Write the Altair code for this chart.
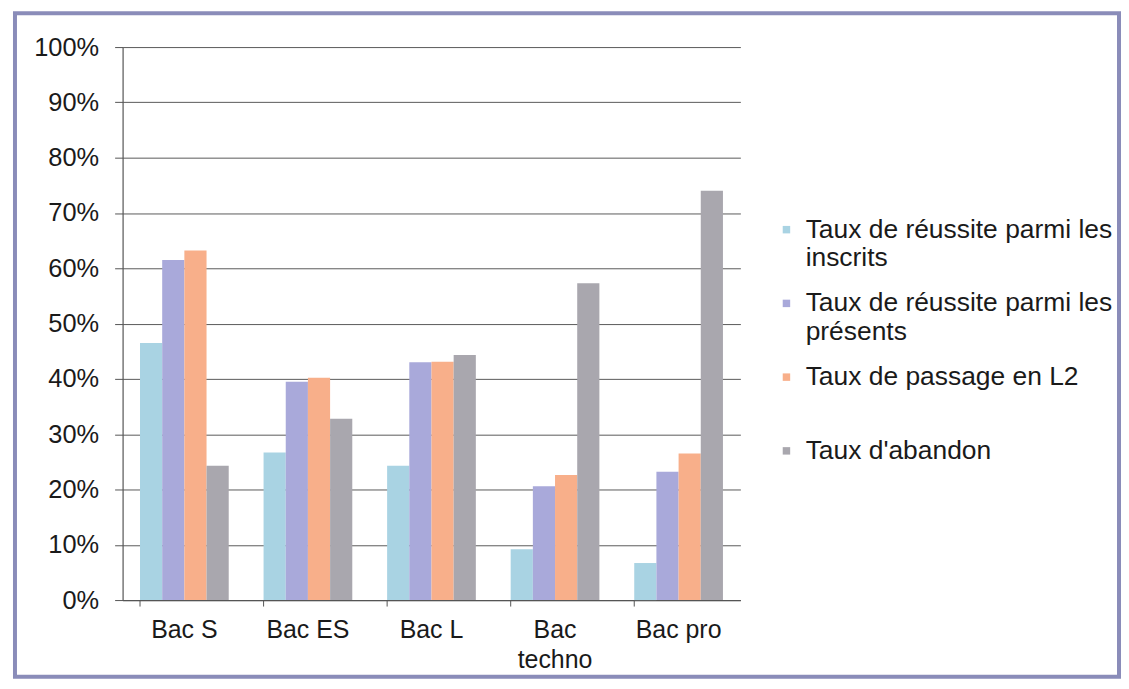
import altair as alt
import pandas as pd

categories = ["Bac S", "Bac ES", "Bac L", "Bac techno", "Bac pro"]
series = [
    "Taux de réussite parmi les inscrits",
    "Taux de réussite parmi les présents",
    "Taux de passage en L2",
    "Taux d'abandon",
]
inscrits = [46.5, 26.7, 24.3, 9.2, 6.7]
presents = [61.5, 39.5, 43.0, 20.6, 23.2]
passage = [63.2, 40.2, 43.1, 22.6, 26.5]
abandon = [24.3, 32.8, 44.3, 57.3, 74.0]
colors = ["#a9d3e3", "#a9a9da", "#f8af8a", "#a9a7ae"]
y_ticks = [0, 10, 20, 30, 40, 50, 60, 70, 80, 90, 100]

rows = []
for s, vals in zip(series, [inscrits, presents, passage, abandon]):
    for c, v in zip(categories, vals):
        rows.append({"cat": c, "serie": s, "val": v})
df = pd.DataFrame(rows)

FONT = "Liberation Sans"

legend_expr = (
    "indexof(datum.label, 'parmi les ') >= 0 ? "
    "split(replace(datum.label, 'parmi les ', 'parmi les|'), '|') : "
    "(datum.label == 'Taux de passage en L2' ? [datum.label, ' '] : datum.label)"
)

bars = alt.Chart(df).mark_bar().encode(
    x=alt.X(
        "cat:N",
        sort=categories,
        scale=alt.Scale(paddingInner=0.282, paddingOuter=0.141),
        axis=alt.Axis(
            title=None,
            bandPosition=0,
            labelAngle=0,
            labelFontSize=25,
            labelFont=FONT,
            labelColor="#1a1a1a",
            labelPadding=12,
            labelLineHeight=30,
            labelExpr="datum.label == 'Bac techno' ? ['Bac', 'techno'] : datum.label",
            tickSize=6,
            tickColor="#555555",
            domainColor="#555555",
            domainWidth=1.2,
            grid=False,
        ),
    ),
    xOffset=alt.XOffset("serie:N", sort=series, scale=alt.Scale(paddingInner=0, paddingOuter=0)),
    y=alt.Y(
        "val:Q",
        scale=alt.Scale(domain=[0, 100], nice=False),
        axis=alt.Axis(
            title=None,
            values=y_ticks,
            labelExpr="datum.value + '%'",
            labelFontSize=25.5,
            labelFont=FONT,
            labelColor="#1a1a1a",
            labelPadding=16,
            tickSize=8,
            tickColor="#555555",
            domainColor="#555555",
            domainWidth=1.2,
            gridColor="#5a5a5a",
            gridWidth=1,
        ),
    ),
    color=alt.Color(
        "serie:N",
        sort=series,
        scale=alt.Scale(domain=series, range=colors),
        legend=alt.Legend(
            title=None,
            orient="none",
            legendX=653,
            legendY=170,
            symbolType="square",
            symbolSize=56,
            symbolStrokeWidth=0,
            labelFontSize=26.5,
            labelFont=FONT,
            labelColor="#1a1a1a",
            labelLimit=500,
            labelOffset=6,
            rowPadding=18,
            labelExpr=legend_expr,
        ),
    ),
)

frame = alt.Chart(pd.DataFrame({"f": [0]})).mark_rect(
    fillOpacity=0, stroke="#8a8cb9", strokeWidth=4
).encode(
    x=alt.value(-108), x2=alt.value(1000), y=alt.value(-34), y2=alt.value(632)
)

chart = alt.layer(bars, frame).properties(
    width=620,
    height=555,
    padding={"left": 5, "top": 2, "right": 0, "bottom": 0},
    background="white",
).configure_view(stroke=None)

chart.save("out.html", embed_options={"renderer": "svg", "actions": False})
